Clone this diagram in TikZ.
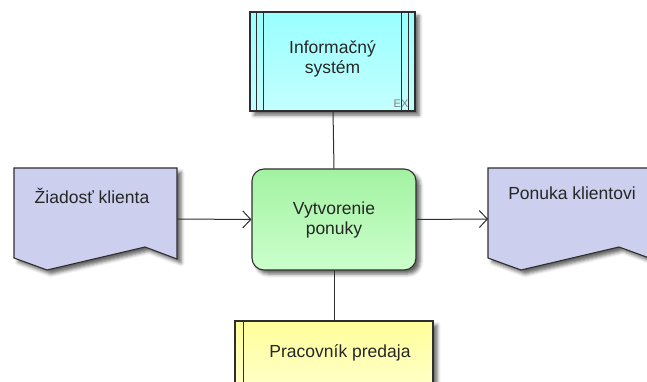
\documentclass[tikz,border=0pt]{standalone}
\usepackage{fontspec}
\setmainfont{Liberation Sans}
\usetikzlibrary{arrows.meta,shadows.blur}
\definecolor{edge}{HTML}{2E2E2E}
\definecolor{docfill}{HTML}{CCD0EE}
\definecolor{systop}{HTML}{99FFFF}
\definecolor{sysbot}{HTML}{C4FFFF}
\definecolor{fntop}{HTML}{A2F2A2}
\definecolor{fnbot}{HTML}{CCFFCC}
\definecolor{roletop}{HTML}{FFFF99}
\definecolor{rolebot}{HTML}{FFFFCC}
\tikzset{
  outline/.style={draw=edge, line width=1.1pt},
  shade/.style={blur shadow={shadow xshift=4pt, shadow yshift=-4pt, shadow blur radius=3.5pt, shadow opacity=60}},
  label/.style={font=\fontsize{17.5}{20}\selectfont, align=center, text=black!85},
  link/.style={draw=edge, line width=1pt},
  flow/.style={link, -{Straight Barb[length=8pt, width=17pt, line width=1pt]}},
}
\begin{document}
\begin{tikzpicture}[x=1pt, y=-1pt]
\useasboundingbox (0,0) rectangle (647,382);

% information system box
\path[shade, outline, top color=systop, bottom color=sysbot] (250,12) rectangle (415,111);
\draw[edge, line width=1pt] (256,12) -- (256,111) (263,12) -- (263,111)
                            (401,12) -- (401,111) (408,12) -- (408,111);
\node[font=\fontsize{11}{12}\selectfont, text=gray] (ex) at (401,104) {EX};
\node[label] (sys) at (332.5,59) {Informačný\\systém};
\coordinate (sysb) at (333,111);

% central function
\node[shade, outline, rounded corners=12pt, minimum width=164pt, minimum height=101pt,
      top color=fntop, bottom color=fnbot, label] (fn) at (334,219.5) {Vytvorenie\\ponuky};

% input document
\path[shade, outline, fill=docfill] (14,168) -- (177,168) -- (177,259) -- (145,247) -- (47,270) -- (14,258) -- cycle;
\node[label] (doc1) at (92,196) {Žiadosť klienta};
\coordinate (doc1r) at (177,219);

% output document
\path[shade, outline, fill=docfill] (488,168) -- (652,168) -- (652,259) -- (619,247) -- (521,270) -- (488,258) -- cycle;
\node[label] (doc2) at (572,193) {Ponuka klientovi};
\coordinate (doc2l) at (488,219);

% role box
\path[shade, outline, top color=roletop, bottom color=rolebot] (235,321) rectangle (433,392);
\draw[edge, line width=1pt] (243,321) -- (243,392);
\node[label] (role) at (340,353) {Pracovník predaja};
\coordinate (rolet) at (334,321);

% connectors
\draw[link] (sysb) -- (fn.north);
\draw[link] (fn.south) -- (rolet);
\draw[flow] (doc1r) -- (fn.west);
\draw[flow] (fn.east) -- (doc2l);
\end{tikzpicture}
\end{document}
